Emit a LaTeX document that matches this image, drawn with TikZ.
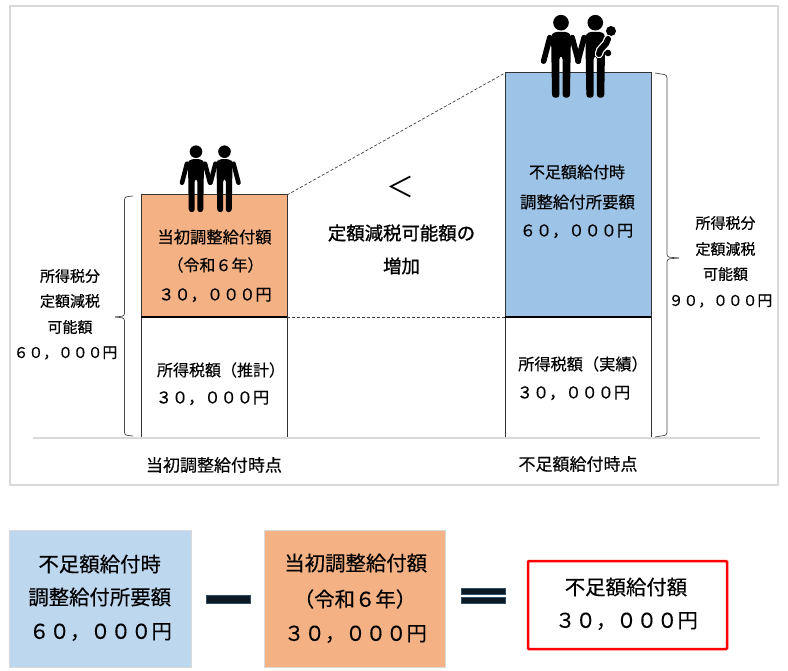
\documentclass[tikz,border=0pt]{standalone}
\usepackage{fontspec}
\usepackage{xcolor}
\setmainfont{Noto Sans CJK JP}[FakeBold=0.35]
\newfontfamily\gainfont{Noto Sans CJK JP}[FakeBold=1.1]
\newfontfamily\thinfont{Noto Sans CJK JP}
\definecolor{barorange}{HTML}{F4B183}
\definecolor{barblue}{HTML}{9DC3E6}
\definecolor{paleblue}{HTML}{BDD7EE}
\definecolor{framegray}{HTML}{D9D9D9}
\definecolor{signnavy}{HTML}{0D1A26}
\definecolor{signedge}{HTML}{2F5068}
\tikzset{
	barbox/.style={draw=black!80, line width=1pt, inner sep=0, outer sep=0},
	sumbox/.style={draw=framegray, line width=1pt, inner sep=0, outer sep=0},
	signbar/.style={draw=signedge, line width=0.8pt, fill=signnavy, inner sep=0, outer sep=0, minimum width=44pt},
	bracket/.style={draw=black!70, line width=0.7pt, rounded corners=2.5pt},
	guide/.style={draw=black!75, line width=0.7pt, dash pattern=on 3pt off 2pt},
	person/.pic={
		\fill (0,0) circle (6.3);
		\fill[rounded corners=3pt] (-8,11) -- (-6,7.5) -- (6,7.5) -- (8,11) -- (7.2,60.5) -- (1.3,60.5) -- (1.3,27) -- (-1.3,27) -- (-1.3,60.5) -- (-7.2,60.5) -- cycle;
		\draw[line cap=round] (-9,12) -- (-14,31);
	},
	outerarm/.pic={
		\draw[line cap=round] (9,12) -- (14,31);
	}
}
\begin{document}
\begin{tikzpicture}[x=1pt, y=-1pt]
	\useasboundingbox[fill=white] (0,0) rectangle (788,671);
	\node[draw=framegray, line width=1.3pt, inner sep=0, minimum width=768pt, minimum height=479pt] (frame) at (394,245.5) {};
	% bars
	\node[barbox, fill=barorange, minimum width=146pt, minimum height=122pt] (initbar) at (214,256) {};
	\node[barbox, fill=white, minimum width=146pt, minimum height=121pt] (initbase) at (214,377.5) {};
	\node[barbox, fill=barblue, minimum width=146pt, minimum height=244pt] (needbar) at (578,195) {};
	\node[barbox, fill=white, minimum width=146pt, minimum height=121pt] (needbase) at (578,377.5) {};
	\draw[black, line width=1.2pt] (initbar.south west) -- (initbar.south east);
	\draw[black, line width=1.2pt] (needbar.south west) -- (needbar.south east);
	\coordinate (axisl) at (33,438);
	\coordinate (axisr) at (760,438);
	\draw[framegray, line width=1.2pt] (axisl) -- (axisr);
	% guides
	\draw[guide] (initbar.north east) -- (needbar.north west);
	\draw[guide] (initbar.south east) -- (needbar.south west);
	% braces
	\coordinate (ltop) at (133,196);
	\coordinate (lbot) at (133,436);
	\coordinate (ltip) at (115,317);
	\coordinate (rtop) at (655,73);
	\coordinate (rbot) at (655,437);
	\coordinate (rtip) at (679,258);
	\draw[bracket] (ltop) -- ++(-8.5,1) -- (124.5,316) -- (ltip);
	\draw[bracket] (lbot) -- ++(-8.5,-1) -- (124.5,318) -- (ltip);
	\draw[bracket] (rtop) -- ++(12,2) -- (667,257) -- (rtip);
	\draw[bracket] (rbot) -- ++(12,-2) -- (667,259) -- (rtip);
	% people
	\foreach \x in {196,224.5}
		\pic[line width=4.6pt] at (\x,151.7) {person};
	\pic[line width=4.6pt] at (196,151.7) {outerarm};
	\pic[line width=4.6pt] at (224.5,151.7) {outerarm};
	\pic[scale=1.24, line width=5.6pt] at (561,22.7) {person};
	\pic[scale=1.24, line width=5.6pt] at (561,22.7) {outerarm};
	\pic[scale=1.24, line width=5.6pt] at (595.3,22.7) {person};
	\fill (611,31) circle (5);
	\draw[white, line width=8.5pt, line cap=round] (608,39) .. controls (607,46) and (599,48) .. (599,54);
	\draw[black, line width=6pt, line cap=round] (608,39) .. controls (607,46) and (599,48) .. (599,54);
	\fill (608,53) circle (3.3);
	% sum boxes
	\node[sumbox, fill=paleblue, minimum width=182pt, minimum height=137pt] (sumneed) at (100,598.5) {};
	\node[sumbox, fill=barorange, minimum width=181pt, minimum height=137pt] (suminit) at (354.5,598.5) {};
	\node[draw=red, fill=white, line width=2.5pt, rounded corners=1pt, inner sep=0, minimum width=199pt, minimum height=88pt] (sumresult) at (627.5,605) {};
	% texts
	\foreach \x/\y/\size/\txt [count=\i] in {
		214.5/237/16.3/当初調整給付額,
		215.5/265/16/（令和６年）,
		215/295/16.2/３０，０００円,
		221/370/16/所得税額（推計）,
		212.5/398/16.2/３０，０００円,
		70/276/15/所得税分,
		70/301/15/定額減税,
		70/327/15/可能額,
		65.5/353/14.8/６０，０００円,
		577/172/16/不足額給付時,
		577.5/202/16.4/調整給付所要額,
		576.5/231/16.2/６０，０００円,
		583/364/16.2/所得税額（実績）,
		573.5/393/16.2/３０，０００円,
		725.5/223/15/所得税分,
		725.5/249/15/定額減税,
		725.5/274/15/可能額,
		720.5/301/14.8/９０，０００円,
		214/465/17/当初調整給付時点,
		578/464/17/不足額給付時点,
		99.7/564/20.4/不足額給付時,
		99.7/597/20.4/調整給付所要額,
		100.5/632/20.4/６０，０００円,
		355.7/563/20.4/当初調整給付額,
		355/599/20.4/（令和６年）,
		355.5/634/20.4/３０，０００円,
		626/587/20.4/不足額給付額,
		626.5/621/20.4/３０，０００円
	}
	{
		\node[inner sep=0, font=\fontsize{\size}{\size}\selectfont] (txt\i) at (\x,\y) {\txt};
	}
	\node[inner sep=0, font=\fontsize{18.4}{18.4}\selectfont\gainfont] (gainone) at (401.5,233) {定額減税可能額の};
	\node[inner sep=0, font=\fontsize{18.4}{18.4}\selectfont\gainfont] (gaintwo) at (401.5,266) {増加};
	\node[inner sep=0, font=\fontsize{28}{28}\selectfont\thinfont] (lessthan) at (400,187) {＜};
	% signs
	\node[signbar, minimum height=8pt] (minus) at (228,599.3) {};
	\node[signbar, minimum height=5.5pt] (equalup) at (483.7,591.3) {};
	\node[signbar, minimum height=5.5pt] (equaldn) at (483.7,600.5) {};
\end{tikzpicture}
\end{document}
